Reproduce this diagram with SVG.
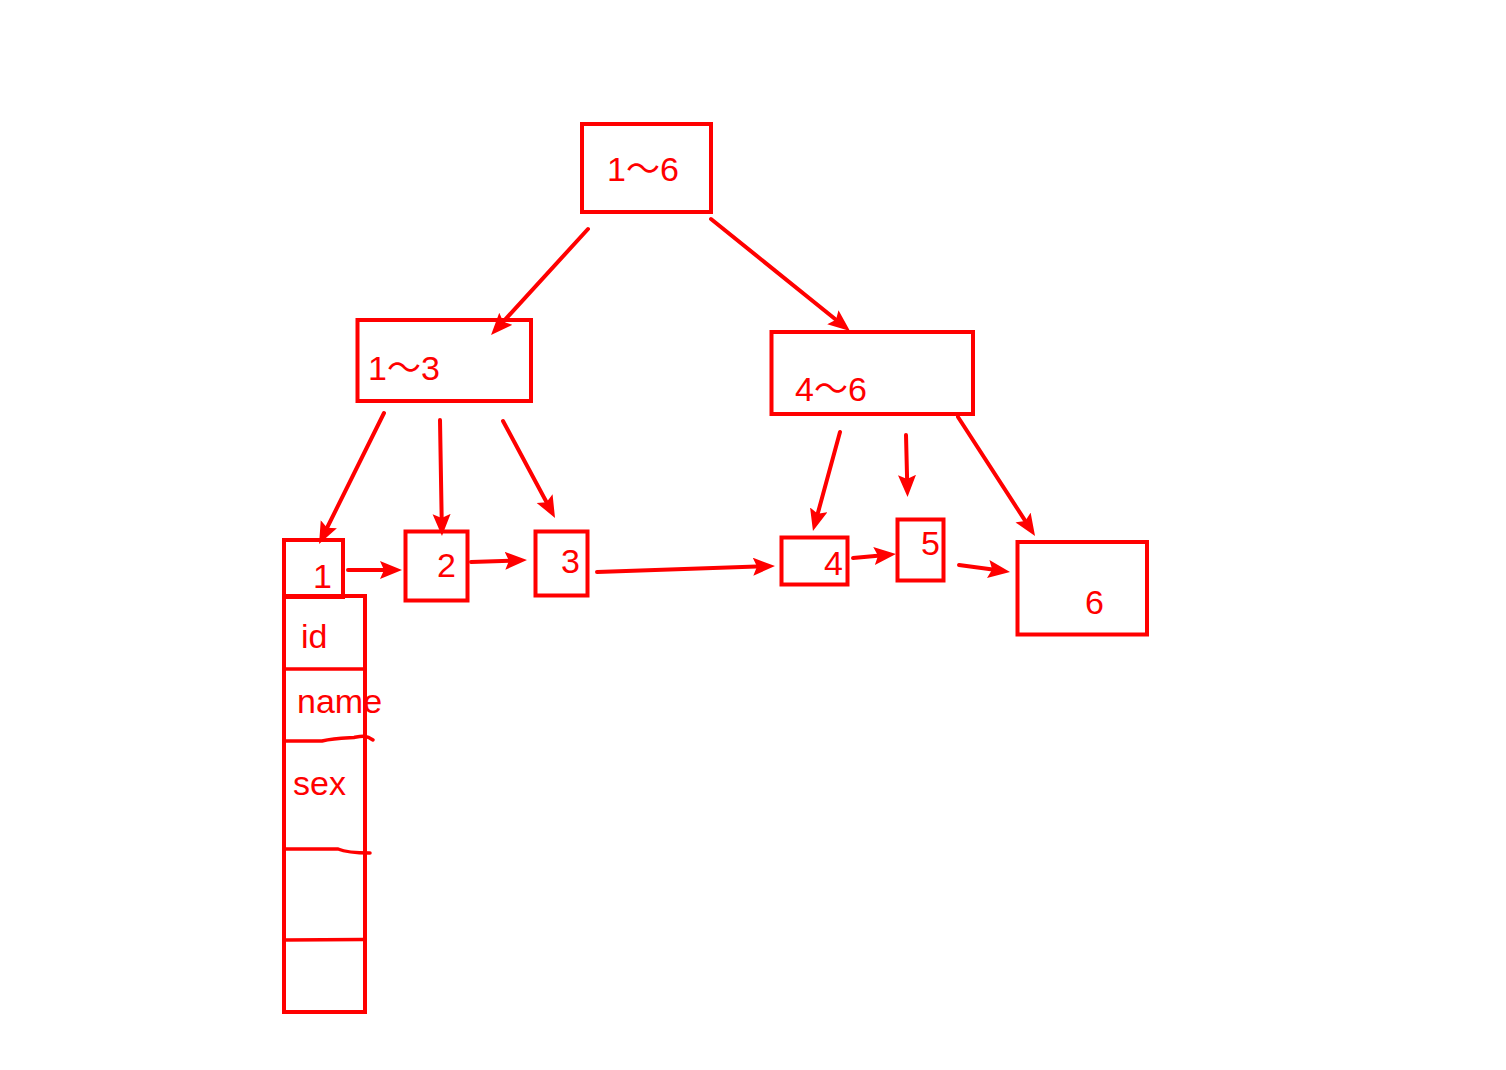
<svg xmlns="http://www.w3.org/2000/svg" width="1506" height="1070" viewBox="0 0 1506 1070">
<style>
.box{fill:none;stroke:#ff0000;stroke-width:4}
.lbl{fill:#ff0000;font-family:"Liberation Sans","Noto Sans CJK SC",sans-serif;font-size:34px}
.edge{fill:none;stroke:#ff0000;stroke-width:4;stroke-linecap:round;marker-end:url(#ah)}
.div{fill:none;stroke:#ff0000;stroke-width:3.5;stroke-linecap:round}
</style>
<defs>
<marker id="ah" markerUnits="userSpaceOnUse" markerWidth="24" markerHeight="20" refX="12" refY="9" orient="auto">
<path d="M0,0 L22,9 L0,18 L4,9 Z" fill="#ff0000"/>
</marker>
</defs>
<rect width="1506" height="1070" fill="#ffffff"/>
<g id="n-root">
<rect class="box" x="582" y="124" width="129" height="88"/>
<text class="lbl" x="607" y="181">1～6</text>
</g>
<g id="n-1-3">
<rect class="box" x="357.5" y="320" width="173.5" height="81"/>
<text class="lbl" x="368" y="380">1～3</text>
</g>
<g id="n-4-6">
<rect class="box" x="771.5" y="332" width="201.5" height="82"/>
<text class="lbl" x="795" y="401">4～6</text>
</g>
<g id="n-1">
<rect class="box" x="284" y="540" width="59" height="57"/>
<text class="lbl" x="313" y="588">1</text>
</g>
<g id="n-record">
<rect class="box" x="284" y="596" width="81" height="416"/>
<line class="div" x1="284" y1="669" x2="365" y2="669"/>
<path class="div" d="M284,741 L322,741 C334,738 344,738 354,737.5 C362,736 366,735 373,740"/>
<path class="div" d="M284,849 L338,849 C345,852 355,853 370,853"/>
<line class="div" x1="284" y1="940" x2="363" y2="939.5"/>
<text class="lbl" x="301" y="648">id</text>
<text class="lbl" x="297" y="713">name</text>
<text class="lbl" x="293" y="795">sex</text>
</g>
<g id="n-2">
<rect class="box" x="405.5" y="531.5" width="62" height="69"/>
<text class="lbl" x="437" y="577">2</text>
</g>
<g id="n-3">
<rect class="box" x="535.5" y="531.5" width="52" height="64"/>
<text class="lbl" x="561" y="573">3</text>
</g>
<g id="n-4">
<rect class="box" x="781.5" y="537.5" width="66" height="47"/>
<text class="lbl" x="824" y="575">4</text>
</g>
<g id="n-5">
<rect class="box" x="897.5" y="519.5" width="46" height="61"/>
<text class="lbl" x="921" y="555">5</text>
</g>
<g id="n-6">
<rect class="box" x="1017.5" y="542" width="129.5" height="92.5"/>
<text class="lbl" x="1085" y="614">6</text>
</g>
<g id="connectors">
<line class="edge" x1="588" y1="229" x2="497.8" y2="327.6"/>
<line class="edge" x1="711" y1="219" x2="842.2" y2="324.7"/>
<line class="edge" x1="384" y1="413" x2="323.5" y2="535"/>
<line class="edge" x1="440" y1="420" x2="441.8" y2="526"/>
<line class="edge" x1="503" y1="421" x2="550.3" y2="509.2"/>
<line class="edge" x1="840" y1="432" x2="815.6" y2="521.4"/>
<line class="edge" x1="906" y1="435" x2="907.3" y2="487"/>
<line class="edge" x1="958" y1="417" x2="1029.6" y2="527.6"/>
<line class="edge" x1="348" y1="570" x2="392" y2="570"/>
<line class="edge" x1="471" y1="562" x2="517" y2="560.4"/>
<line class="edge" x1="597" y1="572" x2="765" y2="566.3"/>
<line class="edge" x1="853" y1="558" x2="886" y2="555"/>
<line class="edge" x1="959" y1="565" x2="1000.1" y2="570.6"/>
</g>
</svg>
